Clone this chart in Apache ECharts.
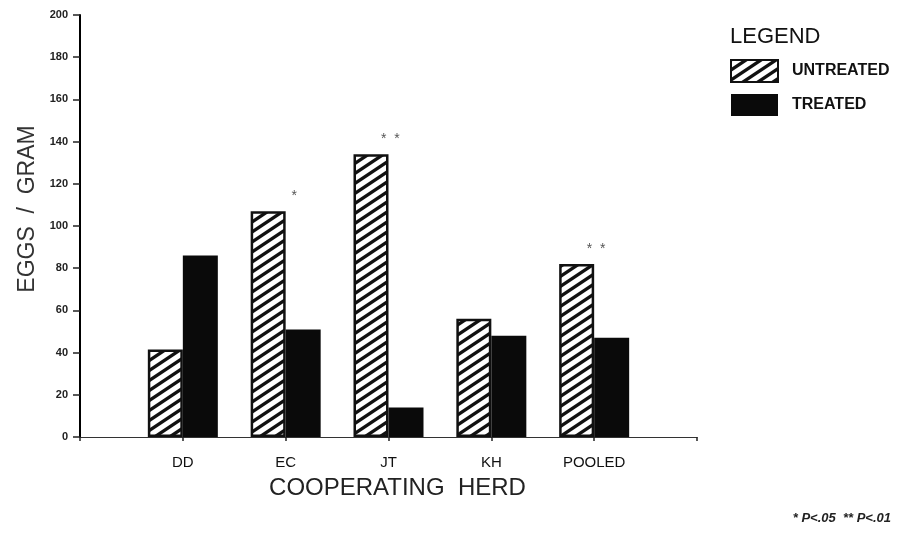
<!DOCTYPE html>
<html>
<head>
<meta charset="utf-8">
<script src="https://cdn.jsdelivr.net/npm/echarts@6/dist/echarts.min.js"></script>
<style>
html,body{margin:0;padding:0;background:#fff;}
#chart{width:905px;height:533px;}
</style>
</head>
<body>
<div id="chart"></div>
<script>
// ---- data ----
const categories = ['DD', 'EC', 'JT', 'KH', 'POOLED'];
const untreated = [41.5, 107, 134, 56, 82];
const treated = [86, 51, 14, 48, 47];
const significance = ['', '*', '**', '', '**'];
const yMin = 0, yMax = 200, yStep = 20;
const seriesNames = ['UNTREATED', 'TREATED'];

// axis slots: empty slot at each end so the axis runs past the last group
const slots = [''].concat(categories, ['']);
const pad = v => ['-'].concat(v, ['-']);
const sigSlots = [''].concat(significance, ['']);

// hatch pattern
function makeHatch() {
  const W = 15, H = 10;
  const c = document.createElement('canvas');
  c.width = W; c.height = H;
  const g = c.getContext('2d');
  g.fillStyle = '#fff';
  g.fillRect(0, 0, W, H);
  g.strokeStyle = '#111';
  g.lineWidth = 3.3;
  const s = H / W;
  for (const dy of [-H, 0, H]) {
    g.beginPath();
    g.moveTo(-2, H + dy + 2 * s);
    g.lineTo(W + 2, dy - 2 * s);
    g.stroke();
  }
  return c;
}
const hatch = { image: makeHatch(), repeat: 'repeat' };

const chart = echarts.init(document.getElementById('chart'));
chart.setOption({
  animation: false,
  backgroundColor: '#fff',
  title: [
    { text: 'LEGEND', left: 725, top: 21,
      textStyle: { fontFamily: 'Liberation Sans', fontSize: 22, fontWeight: 'normal', color: '#111' } },
    { text: '* P<.05  ** P<.01', right: 9, bottom: 3,
      textStyle: { fontFamily: 'Liberation Sans', fontSize: 13, fontStyle: 'italic', fontWeight: 'bold', color: '#222' } }
  ],
  legend: {
    orient: 'vertical', left: 725, top: 54,
    icon: 'rect', itemWidth: 47, itemHeight: 22, itemGap: 11,
    data: seriesNames,
    textStyle: { fontFamily: 'Liberation Sans', fontSize: 16, fontWeight: 'bold', color: '#111', padding: [0, 0, 0, 9] }
  },
  grid: { left: 80, right: 208, top: 15, bottom: 96, containLabel: false },
  xAxis: {
    type: 'category', data: slots, boundaryGap: false,
    name: 'COOPERATING  HERD', nameLocation: 'middle', nameGap: 39,
    nameTextStyle: { fontFamily: 'Liberation Sans', fontSize: 24, color: '#222', padding: [0, 0, 0, 18] },
    axisLine: { lineStyle: { color: '#333', width: 1 } },
    axisTick: { show: true, interval: 0, length: 4, lineStyle: { color: '#222', width: 1.5 } },
    axisLabel: { interval: 0, margin: 18, fontFamily: 'Liberation Sans', fontSize: 15, color: '#111' },
    splitLine: { show: false }
  },
  yAxis: {
    type: 'value', min: yMin, max: yMax, interval: yStep,
    name: 'EGGS  /  GRAM', nameLocation: 'middle', nameGap: 36, nameRotate: 90,
    nameTextStyle: { fontFamily: 'Liberation Sans', fontSize: 23, color: '#333', padding: [0, 0, 0, 34] },
    axisLine: { show: true, lineStyle: { color: '#000', width: 2 } },
    axisTick: { show: true, length: 7, lineStyle: { color: '#222', width: 1.5 } },
    axisLabel: { margin: 12, fontFamily: 'Liberation Sans', fontSize: 11, fontWeight: 'bold', color: '#222' },
    splitLine: { show: false }
  },
  series: [
    {
      name: seriesNames[0], type: 'bar', data: pad(untreated),
      barWidth: 35, barGap: '0%',
      itemStyle: { color: hatch, borderColor: '#111', borderWidth: 2.5 },
      label: {
        show: true, position: 'top', distance: 8, align: 'left', offset: [10, 0],
        fontFamily: 'Liberation Sans', fontSize: 14, color: '#555',
        formatter: p => {
          const s = sigSlots[p.dataIndex];
          if (s === '**') return '*  *';
          if (s === '*') return '{h|*}  *';
          return '';
        },
        rich: { h: { color: 'rgba(0,0,0,0)', fontSize: 14 } }
      }
    },
    {
      name: seriesNames[1], type: 'bar', data: pad(treated),
      barWidth: 35,
      itemStyle: { color: '#0a0a0a' }
    }
  ]
});
</script>
</body>
</html>
